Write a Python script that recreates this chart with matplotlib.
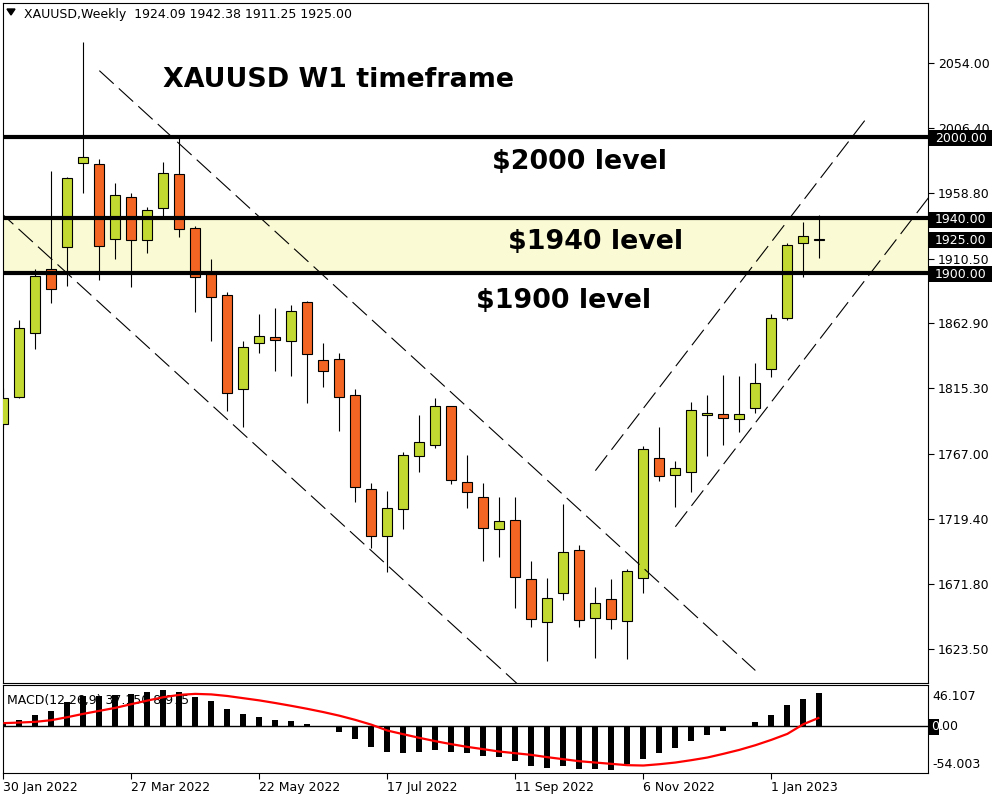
import matplotlib
matplotlib.use("Agg")
import matplotlib.pyplot as plt
from matplotlib.patches import Rectangle, Polygon
from matplotlib.transforms import blended_transform_factory, offset_copy
import numpy as np
import pandas as pd

plt.rcParams["font.family"] = ["DejaVu Sans"]
plt.rcParams["lines.scale_dashes"] = False

# ---------------------------------------------------------------- data
symbol = "XAUUSD"
period = "Weekly"
first_week = "2022-01-30"

opens = [1789.0, 1808.6, 1855.6, 1902.6, 1919.2, 1980.5, 1979.8, 1924.7, 1955.5, 1923.9,
         1947.5, 1972.4, 1932.8, 1899.0, 1883.5, 1814.5, 1848.3, 1852.7, 1850.2, 1878.4,
         1835.8, 1836.5, 1810.1, 1741.0, 1706.9, 1726.3, 1765.2, 1773.3, 1802.0, 1746.1,
         1735.1, 1711.6, 1718.2, 1674.9, 1643.3, 1664.6, 1696.2, 1646.2, 1660.2, 1644.2,
         1675.6, 1763.8, 1751.3, 1753.5, 1795.4, 1796.1, 1792.4, 1800.5, 1829.2, 1866.6,
         1921.7, 1924.09]
highs = [1815.2, 1865.4, 1902.6, 1974.9, 1970.7, 2069.6, 1983.5, 1965.8, 1958.5, 1948.2,
         1981.5, 1998.9, 1934.5, 1910.0, 1886.0, 1849.7, 1869.8, 1874.0, 1876.4, 1879.1,
         1848.5, 1841.1, 1814.7, 1745.6, 1740.0, 1768.2, 1795.6, 1808.1, 1802.5, 1766.2,
         1745.6, 1735.3, 1735.1, 1688.1, 1675.8, 1730.2, 1700.1, 1669.0, 1674.9, 1682.2,
         1773.0, 1786.5, 1761.8, 1804.9, 1810.3, 1825.0, 1824.2, 1833.6, 1869.6, 1922.2,
         1937.4, 1942.38]
lows = [1786.0, 1807.9, 1844.3, 1877.7, 1890.6, 1958.5, 1894.8, 1910.4, 1889.9, 1914.8,
        1941.8, 1926.6, 1871.5, 1850.2, 1798.7, 1786.5, 1840.9, 1828.1, 1824.5, 1804.6,
        1816.4, 1784.0, 1731.9, 1697.6, 1680.5, 1711.6, 1753.9, 1771.1, 1745.1, 1727.5,
        1688.5, 1691.5, 1654.0, 1640.0, 1615.1, 1659.9, 1640.0, 1617.3, 1638.1, 1616.5,
        1665.0, 1747.3, 1728.2, 1739.2, 1765.5, 1773.5, 1783.3, 1796.8, 1823.7, 1865.5,
        1896.8, 1911.25]
closes = [1807.9, 1859.3, 1897.7, 1887.9, 1969.5, 1984.9, 1920.0, 1957.0, 1923.9, 1946.0,
          1973.2, 1932.0, 1896.8, 1882.1, 1811.5, 1845.8, 1853.4, 1850.9, 1871.8, 1840.2,
          1827.7, 1808.6, 1742.5, 1706.9, 1727.0, 1766.0, 1775.5, 1802.0, 1747.6, 1738.8,
          1712.3, 1717.5, 1676.3, 1645.5, 1660.9, 1694.7, 1644.7, 1657.2, 1645.5, 1680.7,
          1770.4, 1750.5, 1756.4, 1799.0, 1796.8, 1793.2, 1796.1, 1818.9, 1866.6, 1920.3,
          1927.1, 1925.00]

macd_params = (12, 26, 9)
macd_main = [3.0, 6.4, 12.5, 16.7, 26.2, 33.8, 33.8, 35.0, 35.7, 37.9,
             40.6, 37.9, 33.0, 28.1, 19.0, 13.3, 9.9, 6.4, 5.3, 1.9,
             -1.9, -6.8, -15.2, -23.9, -29.6, -30.7, -29.6, -27.7, -29.6, -30.7,
             -34.1, -36.2, -39.8, -45.5, -47.8, -46.6, -48.9, -48.9, -50.4, -43.6,
             -37.9, -30.7, -25.0, -17.4, -10.6, -6.1, -0.6, 4.2, 12.5, 22.8,
             30.3, 37.150]
macd_signal = [2.7, 3.4, 4.2, 6.1, 9.5, 13.3, 16.7, 20.1, 24.3, 28.4,
               32.2, 34.9, 36.0, 35.4, 33.6, 31.1, 28.6, 25.6, 22.4, 19.0,
               15.3, 11.2, 6.4, 1.0, -5.7, -9.9, -14.0, -17.8, -21.2, -24.3,
               -26.9, -29.6, -31.5, -33.4, -36.0, -38.3, -40.6, -42.1, -43.6, -45.1,
               -45.5, -44.0, -42.1, -39.4, -36.4, -32.2, -27.7, -22.4, -16.3, -9.5,
               1.5, 8.975]
macd_max, macd_min = 46.107, -54.003

levels = [2000.0, 1940.0, 1900.0]
level_labels = ["$2000 level", "$1940 level", "$1900 level"]
zone_low, zone_high = 1900.0, 1940.0

price_ticks = [2054.00, 2006.40, 1958.80, 1910.50, 1862.90,
               1815.30, 1767.00, 1719.40, 1671.80, 1623.50]

# trend channel lines: (start bar, start price, end bar, end price)
channel_lines = [
    (6.0, 2048.6, 47.0, 1607.9),
    (-1.0, 1953.2, 33.0, 1588.7),
    (37.0, 1754.7, 53.9, 2012.9),
    (42.0, 1713.5, 58.5, 1965.6),
]

title_text = "XAUUSD W1 timeframe"

# ---------------------------------------------------------------- style
GREEN = "#C2D931"
ORANGE = "#F26522"
ZONE = "#FAFAD4"

W, H = 1000, 800
fig = plt.figure(figsize=(W / 100, H / 100), dpi=100)
fig.patch.set_facecolor("white")


def fx(px):
    return px / W


def fy(py):
    return 1 - py / H


left_px, right_px = 2.7, 928.0
ax = fig.add_axes([fx(left_px), fy(683), fx(right_px) - fx(left_px), fy(3) - fy(683)])
mx = fig.add_axes([fx(left_px), fy(773), fx(right_px) - fx(left_px), fy(685) - fy(773)])

n = len(opens)
idx = np.arange(n)
o = np.asarray(opens)
h = np.asarray(highs)
l = np.asarray(lows)
c = np.asarray(closes)
up = c >= o

xlim = (-0.04, 57.79)
for a in (ax, mx):
    a.set_xlim(*xlim)
    for s in a.spines.values():
        s.set_color("black")
        s.set_linewidth(0.8)

ax.set_ylim(1598.7, 2098.3)

# support / resistance zone and levels
ax.axhspan(zone_low, zone_high, color=ZONE, lw=0, zorder=1)

# candles
ax.vlines(idx, l, h, color="black", lw=0.8, zorder=3)
ax.bar(idx, np.abs(c - o), bottom=np.minimum(o, c), width=0.625,
       color=np.where(up, GREEN, ORANGE), edgecolor="black", linewidth=0.8, zorder=4)

for lv in levels:
    ax.axhline(lv, color="black", lw=3.0, zorder=6)

# channel lines
for x0, y0, x1, y1 in channel_lines:
    ax.plot([x0, x1], [y0, y1], color="black", lw=0.8, dashes=(14.0, 5.0), zorder=5)

# price axis
ax.set_xticks([])
ax.yaxis.tick_right()
ax.set_yticks(price_ticks)
ax.set_yticklabels([f"{t:.2f}" for t in price_ticks])
ax.tick_params(axis="y", direction="out", length=4, width=0.8, pad=3, labelsize=9, colors="black")

# boxed price labels
tr = blended_transform_factory(ax.transAxes, ax.transData)
ax_w_px = right_px - left_px
y0_, y1_ = ax.get_ylim()
per_px = (y1_ - y0_) / 680.0
box_h = 16 * per_px
for v in levels + [closes[-1]]:
    yc = v - 1.5 * per_px
    ax.add_patch(Rectangle((1.0 + 1 / ax_w_px, yc - box_h / 2), 63 / ax_w_px, box_h,
                           transform=tr, facecolor="black", edgecolor="none",
                           clip_on=False, zorder=10))
    ax.text(1.0 + 7 / ax_w_px, yc, f"{v:.2f}", transform=tr, color="white",
            fontsize=9, ha="left", va="center", clip_on=False, zorder=11)

# annotations
fig.text(fx(163.3), fy(86.7), title_text, fontsize=19.4, fontweight="bold",
         ha="left", va="baseline")
label_pos = [(492.3, 169.3), (508.3, 249.3), (476.0, 308.3)]
for (px, py), txt in zip(label_pos, level_labels):
    fig.text(fx(px), fy(py), txt, fontsize=19.4, fontweight="bold", ha="left", va="baseline")

# header
fig.add_artist(Polygon([[fx(7), fy(9)], [fx(15), fy(9)], [fx(11), fy(15)]], closed=True,
                       transform=fig.transFigure, color="black"))
fig.text(fx(24), fy(18.3),
         f"{symbol},{period}  {opens[-1]:.2f} {highs[-1]:.2f} {lows[-1]:.2f} {closes[-1]:.2f}",
         fontsize=9, ha="left", va="baseline")

# ---------------------------------------------------------------- MACD
mx.set_ylim(macd_min, macd_max)
mx.bar(idx, macd_main, width=0.375, color="black", zorder=3)
mx.plot(idx, macd_signal, color="#FF0000", lw=1.6, zorder=4, solid_capstyle="butt")
mx.axhline(0, color="black", lw=1.0, zorder=2.5)
mx.set_yticks([])
mx.text(fx(7.3), fy(704),
        f"MACD({macd_params[0]},{macd_params[1]},{macd_params[2]}) {macd_main[-1]:.3f} {macd_signal[-1]:.3f}",
        transform=fig.transFigure, fontsize=9, ha="left", va="baseline", zorder=2, clip_on=False)

mtr = blended_transform_factory(mx.transAxes, mx.transData)
mx.text(1.0 + 4.7 / ax_w_px, (773 - 696.7) / 88, f"{macd_max:.3f}", transform=mx.transAxes,
        fontsize=9, ha="left", va="center", clip_on=False)
mx.text(1.0 + 4.7 / ax_w_px, (773 - 765) / 88, f"{macd_min:.3f}", transform=mx.transAxes,
        fontsize=9, ha="left", va="center", clip_on=False)
mpp = (macd_max - macd_min) / 88.0
mx.add_patch(Rectangle((1.0 + 1.5 / ax_w_px, -9.5 * mpp), 10 / ax_w_px, 16 * mpp,
                       transform=mtr, facecolor="black", edgecolor="none", clip_on=False, zorder=10))
# zero label: leading digit sits on the black marker, the rest follows on white
zero_x = 1.0 + 3 / ax_w_px
mx.text(zero_x, -1.2 * mpp, "0", transform=mtr, fontsize=9, ha="left",
        va="center", color="white", clip_on=False, zorder=11)
mx.text(zero_x, -1.2 * mpp, ".00",
        transform=offset_copy(mtr, fig=fig, x=7.9 * 72 / 100, y=0, units="points"),
        fontsize=9, ha="left", va="center", clip_on=False, zorder=11)

# time axis
dates = pd.date_range(first_week, periods=n, freq="W-SUN")
tick_pos = list(range(0, n, 8))
mx.set_xticks(tick_pos)
mx.set_xticklabels([f"{dates[i].day} {dates[i]:%b %Y}" for i in tick_pos], ha="left")
mx.tick_params(axis="x", direction="out", length=4, width=0.8, pad=2, labelsize=9)

fig.savefig("out.png", dpi=100, facecolor="white")
